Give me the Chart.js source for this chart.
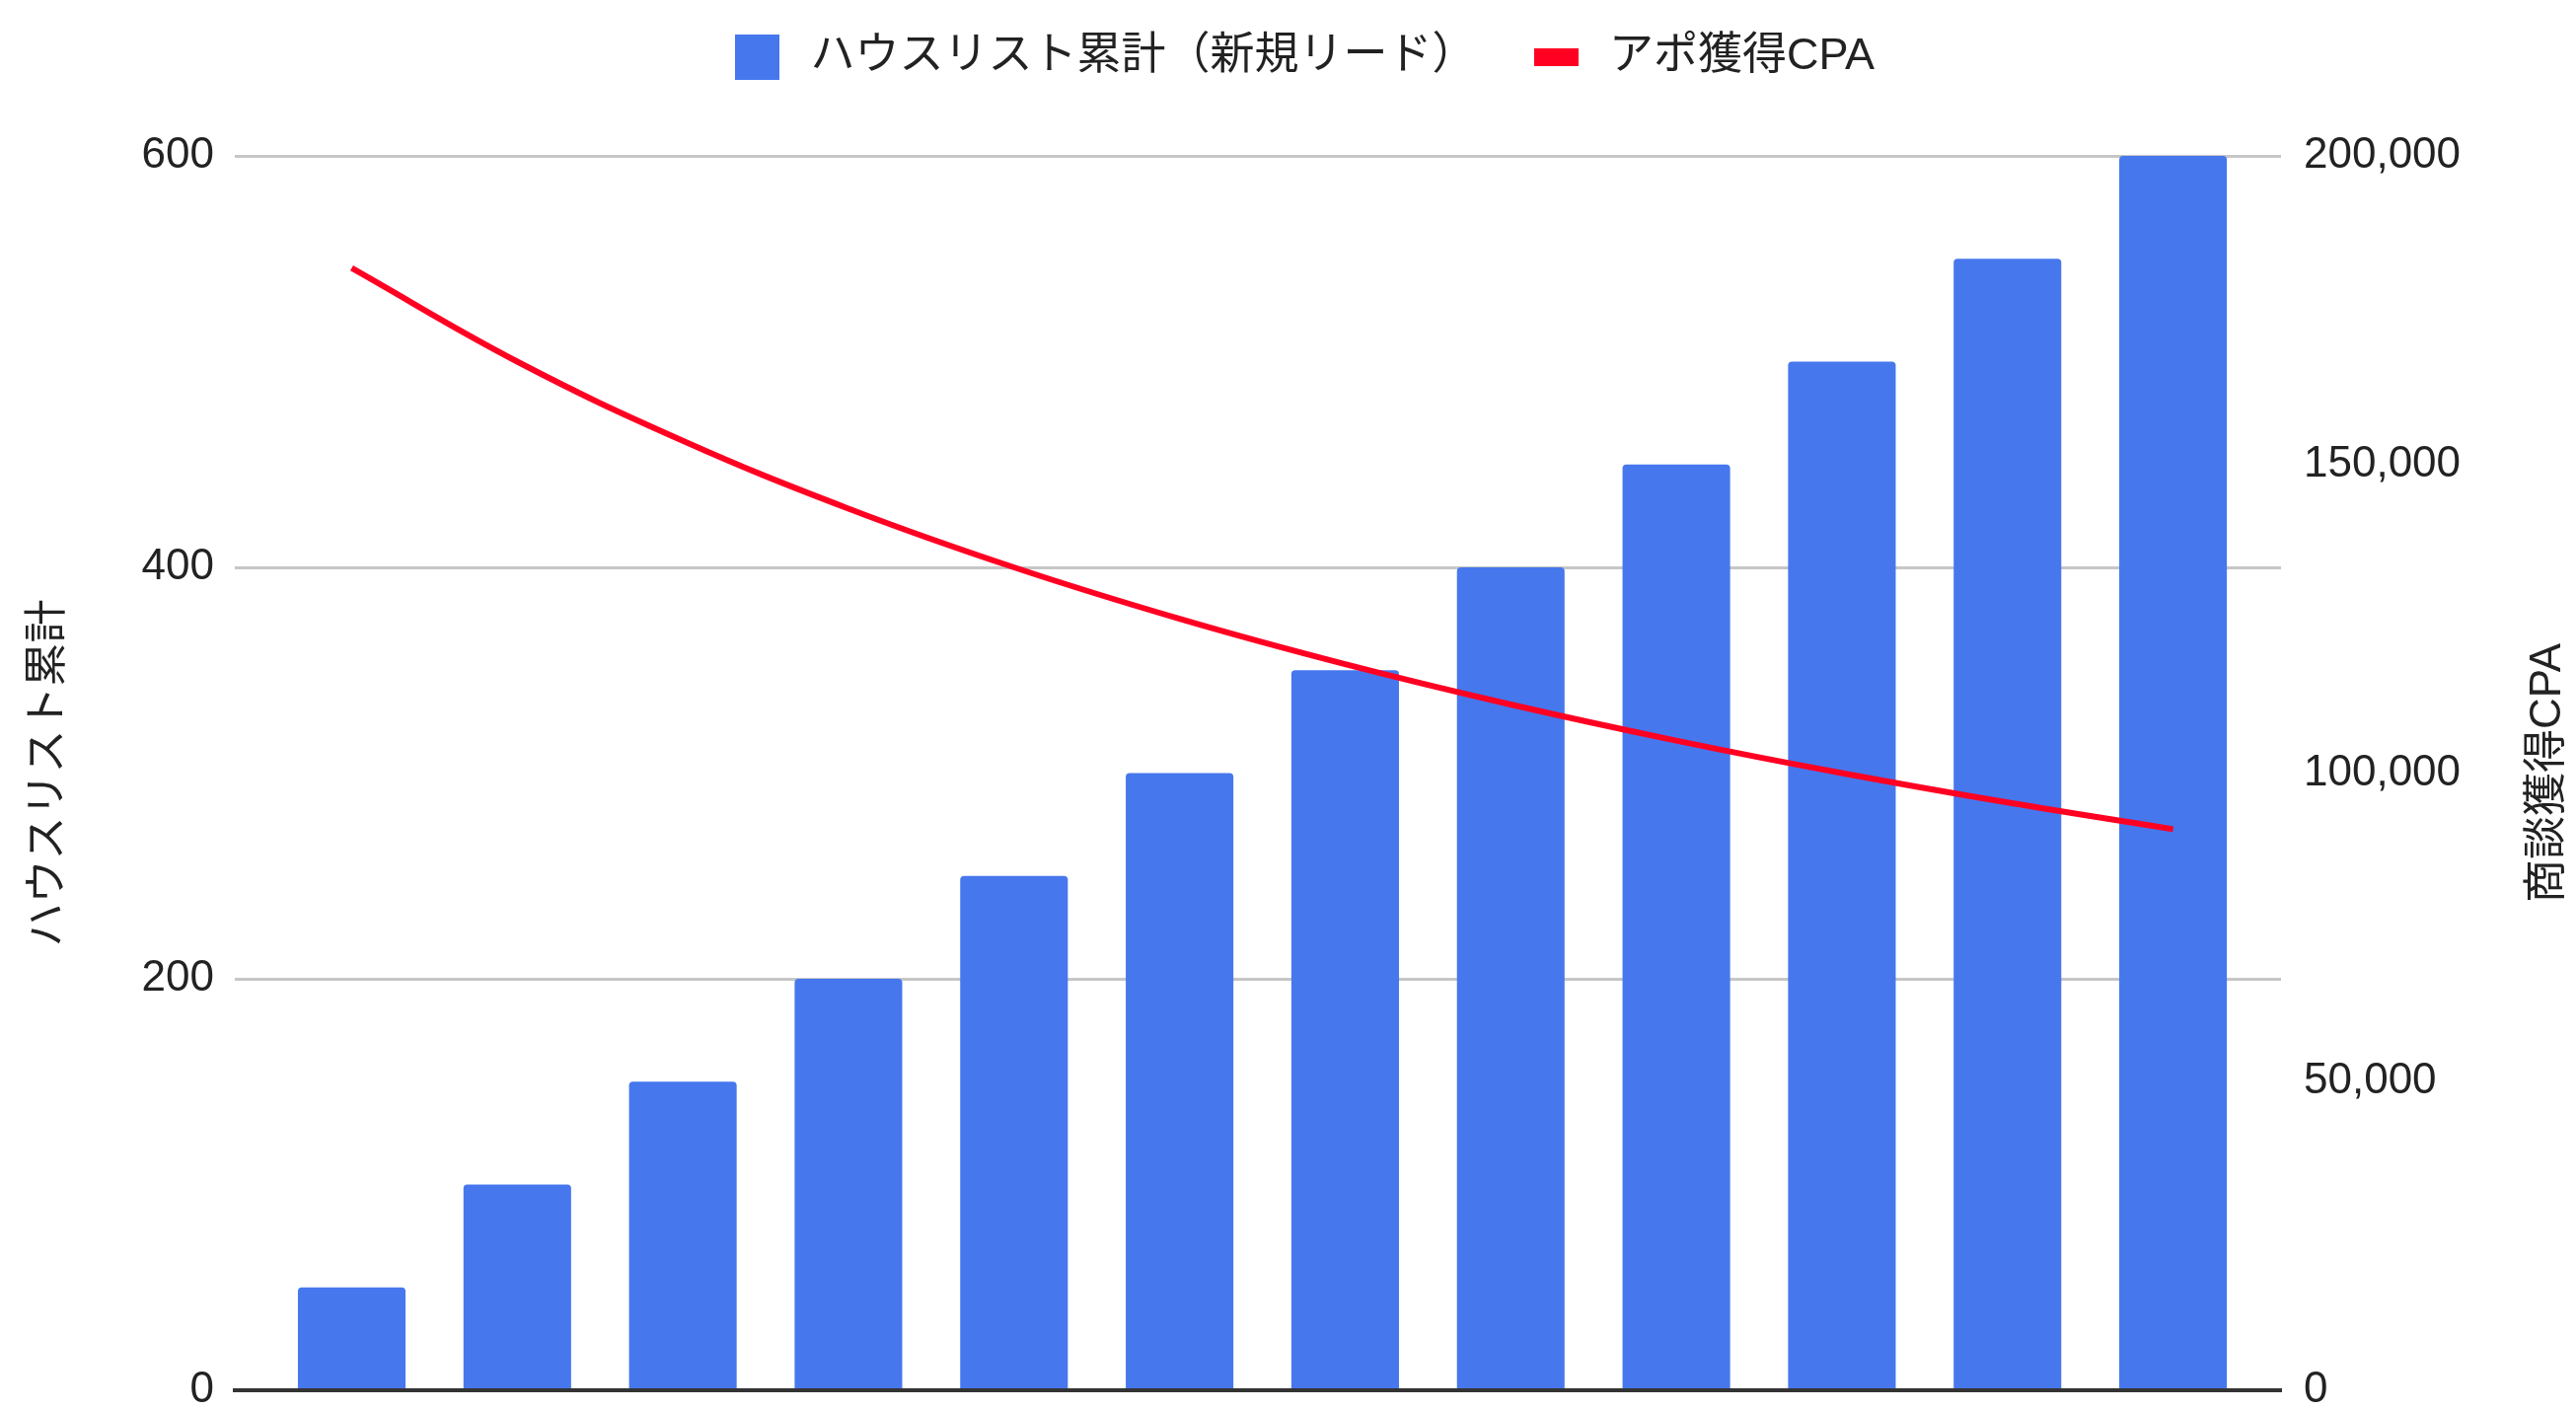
<!DOCTYPE html>
<html lang="ja">
<head>
<meta charset="utf-8">
<title>ハウスリスト累計とアポ獲得CPA</title>
<script src="https://cdn.jsdelivr.net/npm/chart.js@4.4.1/dist/chart.umd.min.js"></script>
<style>
  html, body { margin: 0; padding: 0; background: #fff; }
  #wrap { position: relative; width: 2611px; height: 1429px; }
</style>
</head>
<body>
<div id="wrap"><canvas id="chart"></canvas></div>
<script>
// 1〜12か月目
const periods = [1, 2, 3, 4, 5, 6, 7, 8, 9, 10, 11, 12];
// ハウスリスト累計（新規リード）
const houseList = [50, 100, 150, 200, 250, 300, 350, 400, 450, 500, 550, 600];
// アポ獲得CPA（円）
const cpa = [181818, 166667, 153846, 142857, 133333, 125000, 117647, 111111, 105263, 100000, 95238, 90909];

const leftTicks = [0, 200, 400, 600];
const rightTicks = [0, 50000, 100000, 150000, 200000];

const BLUE = '#4677ed';
const RED = '#ff0022';
const INK = '#222222';
const FONT = '"Liberation Sans", "Noto Sans CJK JP", sans-serif';

// legend markers: square for bars, flat bar for the line
function swatch(w, h, color) {
    const c = document.createElement('canvas');
    c.width = w;
    c.height = h;
    const g = c.getContext('2d');
    g.fillStyle = color;
    g.fillRect(0, 0, w, h);
    return c;
}

// Chart.js rotates right-hand titles the other way, so draw this one here
const rightAxisTitle = {
    id: 'rightAxisTitle',
    afterDraw(chart) {
        const { ctx, chartArea } = chart;
        const s = chart.scales.y1;
        ctx.save();
        ctx.translate(s.right - 28, (chartArea.top + chartArea.bottom) / 2);
        ctx.rotate(-Math.PI / 2);
        ctx.fillStyle = INK;
        ctx.font = `44px ${FONT}`;
        ctx.textAlign = 'center';
        ctx.textBaseline = 'middle';
        ctx.fillText('商談獲得CPA', 0, 0);
        ctx.restore();
    }
};

const tickFont = { family: FONT, size: 44 };

new Chart(document.getElementById('chart'), {
    data: {
        labels: periods,
        datasets: [
            {
                type: 'bar',
                label: 'ハウスリスト累計（新規リード）',
                data: houseList,
                yAxisID: 'y',
                backgroundColor: BLUE,
                borderRadius: 4,
                categoryPercentage: 1,
                barPercentage: 0.65,
                pointStyle: swatch(45, 46, BLUE),
                order: 1
            },
            {
                type: 'line',
                label: 'アポ獲得CPA',
                data: cpa,
                yAxisID: 'y1',
                borderColor: RED,
                backgroundColor: RED,
                borderWidth: 6,
                pointRadius: 0,
                tension: 0.4,
                pointStyle: swatch(45, 18, RED),
                order: 0
            }
        ]
    },
    options: {
        responsive: true,
        maintainAspectRatio: false,
        animation: false,
        locale: 'en-US',
        layout: { padding: { top: -15, bottom: 20, left: 26, right: 0 } },
        plugins: {
            legend: {
                position: 'top',
                labels: {
                    usePointStyle: true,
                    pointStyleWidth: 62,
                    padding: 50,
                    color: INK,
                    font: { family: FONT, size: 45 },
                    sort: (a, b) => a.datasetIndex - b.datasetIndex
                }
            },
            // empty title under the legend keeps the gap above the plot
            title: {
                display: true,
                text: '',
                weight: 500,
                padding: 0,
                font: { size: 68, lineHeight: 1 }
            },
            tooltip: { enabled: false }
        },
        scales: {
            x: {
                type: 'linear',
                display: true,
                offset: false,
                bounds: 'data',
                min: 0.294,
                max: 12.652,
                afterBuildTicks: s => { s.ticks = periods.map(value => ({ value })); },
                grid: { display: false, drawTicks: false },
                border: { display: true, color: '#333333', width: 4, z: 1 },
                ticks: { display: false }
            },
            y: {
                position: 'left',
                min: 0,
                max: 600,
                afterBuildTicks: s => { s.ticks = leftTicks.map(value => ({ value })); },
                afterFit: s => {
                    s.width = 212;
                    s.paddingTop = 0;
                    s.paddingBottom = 0;
                },
                grid: { color: '#c6c6c6', lineWidth: 3, drawTicks: false },
                border: { display: false },
                ticks: { padding: 21, color: INK, font: tickFont },
                title: {
                    display: true,
                    text: 'ハウスリスト累計',
                    color: INK,
                    font: { family: FONT, size: 44, lineHeight: 1 },
                    padding: { top: 2, bottom: 0 }
                }
            },
            y1: {
                position: 'right',
                min: 0,
                max: 200000,
                afterBuildTicks: s => { s.ticks = rightTicks.map(value => ({ value })); },
                afterFit: s => {
                    s.width = 299;
                    s.paddingTop = 0;
                    s.paddingBottom = 0;
                },
                grid: { drawOnChartArea: false, drawTicks: false },
                border: { display: false },
                ticks: { padding: 23, color: INK, font: tickFont }
            }
        }
    },
    plugins: [rightAxisTitle]
});
</script>
</body>
</html>
